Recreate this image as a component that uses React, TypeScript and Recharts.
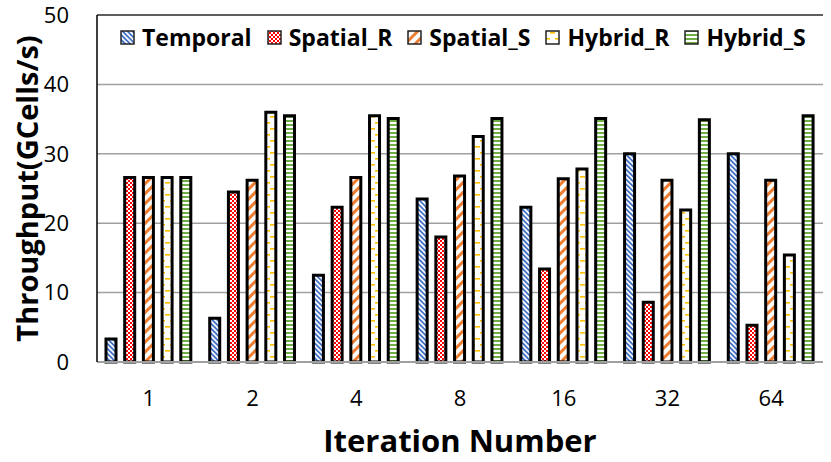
import React from 'react';
import { BarChart, Bar, XAxis, YAxis, CartesianGrid, ReferenceLine } from 'recharts';

const categories = ['1', '2', '4', '8', '16', '32', '64'];
const temporal = [3.3, 6.3, 12.5, 23.5, 22.3, 30.0, 30.0];
const spatialR = [26.6, 24.5, 22.3, 18.0, 13.4, 8.6, 5.3];
const spatialS = [26.6, 26.2, 26.6, 26.8, 26.4, 26.2, 26.2];
const hybridR = [26.6, 36.0, 35.5, 32.5, 27.8, 21.9, 15.4];
const hybridS = [26.6, 35.5, 35.1, 35.1, 35.1, 34.9, 35.5];
const yTicks = [0, 10, 20, 30, 40, 50];

const seriesNames = ['Temporal', 'Spatial_R', 'Spatial_S', 'Hybrid_R', 'Hybrid_S'];
const seriesKeys = ['temporal', 'spatialR', 'spatialS', 'hybridR', 'hybridS'];
const patternIds = ['pTemporal', 'pSpatialR', 'pSpatialS', 'pHybridR', 'pHybridS'];

const data = categories.map((c, i) => ({
  name: c,
  temporal: temporal[i],
  spatialR: spatialR[i],
  spatialS: spatialS[i],
  hybridR: hybridR[i],
  hybridS: hybridS[i],
}));

const FONT = '"Open Sans", "Noto Sans", sans-serif';

const Patterns = ({ prefix = '' }: { prefix?: string }) => (
  <defs>
    <pattern id={prefix + 'pTemporal'} patternUnits="userSpaceOnUse" width="3.5" height="3.5" patternTransform="rotate(-45)">
      <rect width="3.5" height="3.5" fill="#fff" />
      <rect width="1.8" height="3.5" fill="#4472C4" />
    </pattern>
    <pattern id={prefix + 'pSpatialR'} patternUnits="userSpaceOnUse" width="4" height="4">
      <rect width="4" height="4" fill="#fff" />
      <rect x="0" y="0" width="2" height="2" fill="#FF0000" />
      <rect x="2" y="2" width="2" height="2" fill="#FF0000" />
    </pattern>
    <pattern id={prefix + 'pSpatialS'} patternUnits="userSpaceOnUse" width="7" height="7" patternTransform="rotate(45)">
      <rect width="7" height="7" fill="#fff" />
      <rect width="3" height="7" fill="#ED7D31" />
    </pattern>
    <pattern id={prefix + 'pHybridR'} patternUnits="userSpaceOnUse" width="10" height="12">
      <rect width="10" height="12" fill="#fff" />
      <rect x="5" y="2" width="5" height="1.6" fill="#FFC000" />
      <rect x="0" y="8" width="5" height="1.6" fill="#FFC000" />
    </pattern>
    <pattern id={prefix + 'pHybridS'} patternUnits="userSpaceOnUse" width="4" height="4">
      <rect width="4" height="4" fill="#fff" />
      <rect y="0" width="4" height="2" fill="#70AD47" />
    </pattern>
  </defs>
);

const LegendOverlay = () => (
  <div style={{ position: 'absolute', left: 120, top: 22, display: 'flex', alignItems: 'center', fontFamily: FONT, fontWeight: 700, fontSize: 23, color: '#000', whiteSpace: 'nowrap', lineHeight: '30px' }}>
    {seriesNames.map((n, i) => (
      <div key={n} style={{ display: 'flex', alignItems: 'center', marginRight: 15 }}>
        <svg width={15} height={15} style={{ marginRight: 7 }}>
          <Patterns prefix={'lg' + i} />
          <rect x={1} y={1} width={13} height={13} fill={`url(#lg${i}${patternIds[i]})`} stroke="#222" strokeWidth={1.5} />
        </svg>
        <span>{n}</span>
      </div>
    ))}
  </div>
);

export default function App() {
  return (
    <div style={{ position: 'absolute', left: 0, top: 0, width: 831, height: 462, background: '#fff' }}>
      <BarChart
        width={831}
        height={462}
        data={data}
        margin={{ top: 15, right: 8, left: 0, bottom: 0 }}
        barSize={10}
        barGap={8.7}
      >
        <Patterns />
        <CartesianGrid vertical={false} stroke="#A0A0A0" strokeWidth={1.5} />
        <XAxis
          dataKey="name"
          height={100}
          tickLine={false}
          axisLine={{ stroke: '#A0A0A0', strokeWidth: 2 }}
          tick={{ fontFamily: FONT, fontSize: 22, fill: '#000' }}
          tickMargin={22}
          label={(props: any) => {
            const vb = props.viewBox;
            return (
              <text x={vb.x + vb.width / 2} y={vb.y + 90} textAnchor="middle" fontFamily={FONT} fontWeight={700} fontSize={31} fill="#000">
                Iteration Number
              </text>
            );
          }}
        />
        <YAxis
          width={97}
          domain={[0, 50]}
          ticks={yTicks}
          tickLine={false}
          axisLine={{ stroke: '#000', strokeWidth: 1.5 }}
          tick={{ fontFamily: FONT, fontSize: 22, fill: '#000' }}
          tickMargin={22}
          label={(props: any) => {
            const vb = props.viewBox;
            const cx = 26;
            const cy = vb.y + vb.height / 2;
            return (
              <text x={cx} y={cy} transform={`rotate(-90 ${cx} ${cy})`} textAnchor="middle" dominantBaseline="central" fontFamily={FONT} fontWeight={700} fontSize={29} fill="#000">
                Throughput(GCells/s)
              </text>
            );
          }}
        />
        <YAxis yAxisId="right" orientation="right" width={0} tick={false} tickLine={false} axisLine={{ stroke: '#404040', strokeWidth: 1.5 }} domain={[0, 50]} />
        <ReferenceLine y={50} stroke="#404040" strokeWidth={1.5} />
        {seriesKeys.map((k, i) => (
          <Bar
            key={k}
            dataKey={k}
            name={seriesNames[i]}
            fill={`url(#${patternIds[i]})`}
            stroke="#000"
            strokeWidth={3}
            isAnimationActive={false}
          />
        ))}
      </BarChart>
      <LegendOverlay />
    </div>
  );
}
